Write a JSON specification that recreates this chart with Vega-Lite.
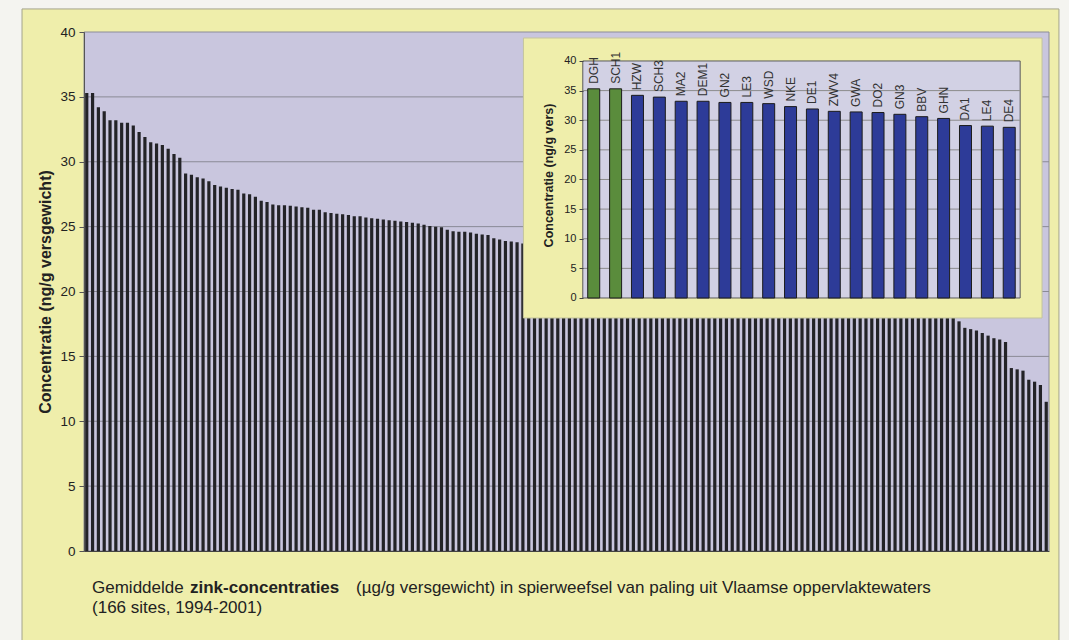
{
  "$schema": "https://vega.github.io/schema/vega-lite/v6.json",
  "width": 965,
  "height": 519,
  "autosize": {"type": "none"},
  "padding": {"left": 84, "top": 32, "right": 20, "bottom": 89},
  "background": "#f4f4f0",
  "config": {"view": {"stroke": null}, "font": "Liberation Sans"},
  "datasets": {
    "main": [
      {"rang":1,"zink":35.3},{"rang":2,"zink":35.3},{"rang":3,"zink":34.2},{"rang":4,"zink":33.9},{"rang":5,"zink":33.2},{"rang":6,"zink":33.2},{"rang":7,"zink":33.0},{"rang":8,"zink":33.0},{"rang":9,"zink":32.8},{"rang":10,"zink":32.3},
      {"rang":11,"zink":31.9},{"rang":12,"zink":31.5},{"rang":13,"zink":31.4},{"rang":14,"zink":31.3},{"rang":15,"zink":31.0},{"rang":16,"zink":30.6},{"rang":17,"zink":30.3},{"rang":18,"zink":29.1},{"rang":19,"zink":29.0},{"rang":20,"zink":28.8},
      {"rang":21,"zink":28.7},{"rang":22,"zink":28.5},{"rang":23,"zink":28.2},{"rang":24,"zink":28.1},{"rang":25,"zink":28.0},{"rang":26,"zink":27.9},{"rang":27,"zink":27.85},{"rang":28,"zink":27.55},{"rang":29,"zink":27.5},{"rang":30,"zink":27.3},
      {"rang":31,"zink":27.0},{"rang":32,"zink":26.9},{"rang":33,"zink":26.7},{"rang":34,"zink":26.65},{"rang":35,"zink":26.65},{"rang":36,"zink":26.6},{"rang":37,"zink":26.55},{"rang":38,"zink":26.5},{"rang":39,"zink":26.45},{"rang":40,"zink":26.3},
      {"rang":41,"zink":26.3},{"rang":42,"zink":26.1},{"rang":43,"zink":26.05},{"rang":44,"zink":26.0},{"rang":45,"zink":25.95},{"rang":46,"zink":25.9},{"rang":47,"zink":25.8},{"rang":48,"zink":25.8},{"rang":49,"zink":25.7},{"rang":50,"zink":25.65},
      {"rang":51,"zink":25.6},{"rang":52,"zink":25.55},{"rang":53,"zink":25.5},{"rang":54,"zink":25.45},{"rang":55,"zink":25.4},{"rang":56,"zink":25.35},{"rang":57,"zink":25.3},{"rang":58,"zink":25.25},{"rang":59,"zink":25.15},{"rang":60,"zink":25.05},
      {"rang":61,"zink":25.0},{"rang":62,"zink":24.95},{"rang":63,"zink":24.75},{"rang":64,"zink":24.65},{"rang":65,"zink":24.6},{"rang":66,"zink":24.6},{"rang":67,"zink":24.55},{"rang":68,"zink":24.45},{"rang":69,"zink":24.4},{"rang":70,"zink":24.35},
      {"rang":71,"zink":24.1},{"rang":72,"zink":24.0},{"rang":73,"zink":23.9},{"rang":74,"zink":23.85},{"rang":75,"zink":23.8},{"rang":76,"zink":23.7},{"rang":77,"zink":23.65},{"rang":78,"zink":23.5},{"rang":79,"zink":23.45},{"rang":80,"zink":23.4},
      {"rang":81,"zink":23.3},{"rang":82,"zink":23.25},{"rang":83,"zink":23.1},{"rang":84,"zink":23.05},{"rang":85,"zink":23.0},{"rang":86,"zink":22.9},{"rang":87,"zink":22.85},{"rang":88,"zink":22.8},{"rang":89,"zink":22.7},{"rang":90,"zink":22.6},
      {"rang":91,"zink":22.55},{"rang":92,"zink":22.5},{"rang":93,"zink":22.4},{"rang":94,"zink":22.35},{"rang":95,"zink":22.25},{"rang":96,"zink":22.2},{"rang":97,"zink":22.1},{"rang":98,"zink":22.0},{"rang":99,"zink":21.95},{"rang":100,"zink":21.9},
      {"rang":101,"zink":21.8},{"rang":102,"zink":21.7},{"rang":103,"zink":21.65},{"rang":104,"zink":21.6},{"rang":105,"zink":21.5},{"rang":106,"zink":21.45},{"rang":107,"zink":21.35},{"rang":108,"zink":21.3},{"rang":109,"zink":21.2},{"rang":110,"zink":21.1},
      {"rang":111,"zink":21.05},{"rang":112,"zink":21.0},{"rang":113,"zink":20.9},{"rang":114,"zink":20.85},{"rang":115,"zink":20.75},{"rang":116,"zink":20.7},{"rang":117,"zink":20.6},{"rang":118,"zink":20.5},{"rang":119,"zink":20.45},{"rang":120,"zink":20.4},
      {"rang":121,"zink":20.3},{"rang":122,"zink":20.25},{"rang":123,"zink":20.15},{"rang":124,"zink":20.1},{"rang":125,"zink":20.0},{"rang":126,"zink":19.9},{"rang":127,"zink":19.85},{"rang":128,"zink":19.8},{"rang":129,"zink":19.7},{"rang":130,"zink":19.65},
      {"rang":131,"zink":19.55},{"rang":132,"zink":19.5},{"rang":133,"zink":19.4},{"rang":134,"zink":19.3},{"rang":135,"zink":19.25},{"rang":136,"zink":19.2},{"rang":137,"zink":19.1},{"rang":138,"zink":19.0},{"rang":139,"zink":18.95},{"rang":140,"zink":18.9},
      {"rang":141,"zink":18.8},{"rang":142,"zink":18.75},{"rang":143,"zink":18.6},{"rang":144,"zink":18.5},{"rang":145,"zink":18.45},{"rang":146,"zink":18.35},{"rang":147,"zink":18.25},{"rang":148,"zink":18.2},{"rang":149,"zink":18.1},{"rang":150,"zink":18.0},
      {"rang":151,"zink":17.7},{"rang":152,"zink":17.2},{"rang":153,"zink":17.1},{"rang":154,"zink":17.0},{"rang":155,"zink":16.8},{"rang":156,"zink":16.6},{"rang":157,"zink":16.4},{"rang":158,"zink":16.3},{"rang":159,"zink":16.1},{"rang":160,"zink":14.1},
      {"rang":161,"zink":14.0},{"rang":162,"zink":13.9},{"rang":163,"zink":13.2},{"rang":164,"zink":13.05},{"rang":165,"zink":12.8},{"rang":166,"zink":11.5}
    ],
    "top20": [
      {"rang":1,"site":"DGH","zink":35.3,"groep":"a"},
      {"rang":2,"site":"SCH1","zink":35.3,"groep":"a"},
      {"rang":3,"site":"HZW","zink":34.2,"groep":"b"},
      {"rang":4,"site":"SCH3","zink":33.9,"groep":"b"},
      {"rang":5,"site":"MA2","zink":33.2,"groep":"b"},
      {"rang":6,"site":"DEM1","zink":33.2,"groep":"b"},
      {"rang":7,"site":"GN2","zink":33.0,"groep":"b"},
      {"rang":8,"site":"LE3","zink":33.0,"groep":"b"},
      {"rang":9,"site":"WSD","zink":32.8,"groep":"b"},
      {"rang":10,"site":"NKE","zink":32.3,"groep":"b"},
      {"rang":11,"site":"DE1","zink":31.9,"groep":"b"},
      {"rang":12,"site":"ZWV4","zink":31.5,"groep":"b"},
      {"rang":13,"site":"GWA","zink":31.4,"groep":"b"},
      {"rang":14,"site":"DO2","zink":31.3,"groep":"b"},
      {"rang":15,"site":"GN3","zink":31.0,"groep":"b"},
      {"rang":16,"site":"BBV","zink":30.6,"groep":"b"},
      {"rang":17,"site":"GHN","zink":30.3,"groep":"b"},
      {"rang":18,"site":"DA1","zink":29.1,"groep":"b"},
      {"rang":19,"site":"LE4","zink":29.0,"groep":"b"},
      {"rang":20,"site":"DE4","zink":28.8,"groep":"b"}
    ],
    "grid": [{"g":5},{"g":10},{"g":15},{"g":20},{"g":25},{"g":30},{"g":35}]
  },
  "layer": [
    {
      "data": {"values": [{}]},
      "layer": [
        {
          "mark": {"type": "rect", "fill": "#efeeab", "stroke": "#a5a58c", "strokeWidth": 1},
          "encoding": {
            "x": {"datum": -24.885, "type": "quantitative", "scale": {"domain": [-22.08, 21.59], "nice": false, "zero": false}, "axis": null},
            "x2": {"datum": 22.04},
            "y": {"datum": 48.78, "type": "quantitative", "scale": {"domain": [-42.70, 44.89], "nice": false, "zero": false}, "axis": null},
            "y2": {"datum": -58.57}
          }
        },
        {
          "mark": {"type": "text", "text": "Gemiddelde", "align": "left", "baseline": "middle", "fontSize": 17, "color": "#222222"},
          "encoding": {
            "x": {"datum": -21.717, "type": "quantitative", "scale": {"domain": [-22.08, 21.59], "nice": false, "zero": false}, "axis": null},
            "y": {"datum": -48.95, "type": "quantitative", "scale": {"domain": [-42.70, 44.89], "nice": false, "zero": false}, "axis": null}
          }
        },
        {
          "mark": {"type": "text", "text": "zink-concentraties", "align": "left", "baseline": "middle", "fontSize": 17, "fontWeight": "bold", "color": "#222222"},
          "encoding": {
            "x": {"datum": -17.283, "type": "quantitative", "scale": {"domain": [-22.08, 21.59], "nice": false, "zero": false}, "axis": null},
            "y": {"datum": -48.95, "type": "quantitative", "scale": {"domain": [-42.70, 44.89], "nice": false, "zero": false}, "axis": null}
          }
        },
        {
          "mark": {"type": "text", "text": "(µg/g versgewicht) in spierweefsel van paling uit Vlaamse oppervlaktewaters", "align": "left", "baseline": "middle", "fontSize": 17, "color": "#222222"},
          "encoding": {
            "x": {"datum": -9.772, "type": "quantitative", "scale": {"domain": [-22.08, 21.59], "nice": false, "zero": false}, "axis": null},
            "y": {"datum": -48.95, "type": "quantitative", "scale": {"domain": [-42.70, 44.89], "nice": false, "zero": false}, "axis": null}
          }
        },
        {
          "mark": {"type": "text", "text": "(166 sites, 1994-2001)", "align": "left", "baseline": "middle", "fontSize": 17, "color": "#222222"},
          "encoding": {
            "x": {"datum": -21.717, "type": "quantitative", "scale": {"domain": [-22.08, 21.59], "nice": false, "zero": false}, "axis": null},
            "y": {"datum": -52.32, "type": "quantitative", "scale": {"domain": [-42.70, 44.89], "nice": false, "zero": false}, "axis": null}
          }
        }
      ]
    },
    {
      "layer": [
        {
          "data": {"values": [{}]},
          "mark": {"type": "rect", "fill": "#c9c6de", "stroke": "#8c8c98", "strokeWidth": 1},
          "encoding": {
            "y": {"datum": 40, "type": "quantitative", "scale": {"domain": [0, 40], "nice": false, "zero": false},
                  "axis": {"title": "Concentratie (ng/g versgewicht)", "values": [0,5,10,15,20,25,30,35,40], "grid": false, "domain": true, "domainColor": "#555555",
                           "tickSize": 5, "tickColor": "#555555", "labelFontSize": 13.5, "labelColor": "#222222", "labelPadding": 4,
                           "titleFontSize": 16, "titleFontWeight": "bold", "titleColor": "#222222", "titlePadding": 6, "zindex": 1}},
            "y2": {"datum": 0}
          }
        },
        {
          "data": {"name": "grid"},
          "mark": {"type": "rule", "color": "#8a8a96", "strokeWidth": 1},
          "encoding": {
            "y": {"field": "g", "type": "quantitative", "scale": {"domain": [0, 40], "nice": false, "zero": false},
                  "axis": {"title": "Concentratie (ng/g versgewicht)", "values": [0,5,10,15,20,25,30,35,40], "grid": false, "domain": true, "domainColor": "#555555",
                           "tickSize": 5, "tickColor": "#555555", "labelFontSize": 13.5, "labelColor": "#222222", "labelPadding": 4,
                           "titleFontSize": 16, "titleFontWeight": "bold", "titleColor": "#222222", "titlePadding": 6, "zindex": 1}}
          }
        },
        {
          "data": {"name": "main"},
          "mark": {"type": "bar", "color": "#232327"},
          "encoding": {
            "x": {"field": "rang", "type": "ordinal", "scale": {"paddingInner": 0.45, "paddingOuter": 0.2},
                  "axis": {"title": null, "labels": false, "ticks": false, "domain": true, "domainColor": "#444444", "grid": false, "zindex": 1}},
            "y": {"field": "zink", "type": "quantitative", "scale": {"domain": [0, 40], "nice": false, "zero": false},
                  "axis": {"title": "Concentratie (ng/g versgewicht)", "values": [0,5,10,15,20,25,30,35,40], "grid": false, "domain": true, "domainColor": "#555555",
                           "tickSize": 5, "tickColor": "#555555", "labelFontSize": 13.5, "labelColor": "#222222", "labelPadding": 4,
                           "titleFontSize": 16, "titleFontWeight": "bold", "titleColor": "#222222", "titlePadding": 6, "zindex": 1}}
          }
        }
      ]
    },
    {
      "layer": [
        {
          "data": {"values": [{}]},
          "mark": {"type": "rect", "fill": "#efeeab", "stroke": "#c4c49c", "strokeWidth": 1},
          "encoding": {
            "x": {"datum": -2.215, "type": "quantitative", "scale": {"domain": [-22.08, 21.59], "nice": false, "zero": false}, "axis": null},
            "x2": {"datum": 21.5},
            "y": {"datum": 43.88, "type": "quantitative", "scale": {"domain": [-42.70, 44.89], "nice": false, "zero": false},
                  "axis": {"orient": "left", "offset": -499, "title": "Concentratie (ng/g vers)", "values": [0,5,10,15,20,25,30,35,40],
                           "grid": false, "domain": false, "tickSize": 4, "tickColor": "#444444", "labelFontSize": 11, "labelColor": "#222222",
                           "labelPadding": 3, "labelFlush": false, "labelOverlap": false,
                           "titleFontSize": 12.5, "titleFontWeight": "bold", "titleColor": "#222222", "titleY": 143, "titlePadding": 8, "zindex": 1}},
            "y2": {"datum": -3.376}
          }
        },
        {
          "data": {"values": [{}]},
          "mark": {"type": "rect", "fill": "#d2d1e4", "stroke": "#5a5a5a", "strokeWidth": 1},
          "encoding": {
            "x": {"datum": 0.5, "type": "quantitative", "scale": {"domain": [-22.08, 21.59], "nice": false, "zero": false}, "axis": null},
            "x2": {"datum": 20.5},
            "y": {"datum": 40, "type": "quantitative", "scale": {"domain": [-42.70, 44.89], "nice": false, "zero": false},
                  "axis": {"orient": "left", "offset": -499, "title": "Concentratie (ng/g vers)", "values": [0,5,10,15,20,25,30,35,40],
                           "grid": false, "domain": false, "tickSize": 4, "tickColor": "#444444", "labelFontSize": 11, "labelColor": "#222222",
                           "labelPadding": 3, "labelFlush": false, "labelOverlap": false,
                           "titleFontSize": 12.5, "titleFontWeight": "bold", "titleColor": "#222222", "titleY": 143, "titlePadding": 8, "zindex": 1}},
            "y2": {"datum": 0}
          }
        },
        {
          "data": {"name": "grid"},
          "mark": {"type": "rule", "color": "#8c8c8c", "strokeWidth": 1},
          "encoding": {
            "x": {"datum": 0.5, "type": "quantitative", "scale": {"domain": [-22.08, 21.59], "nice": false, "zero": false}, "axis": null},
            "x2": {"datum": 20.5},
            "y": {"field": "g", "type": "quantitative", "scale": {"domain": [-42.70, 44.89], "nice": false, "zero": false},
                  "axis": {"orient": "left", "offset": -499, "title": "Concentratie (ng/g vers)", "values": [0,5,10,15,20,25,30,35,40],
                           "grid": false, "domain": false, "tickSize": 4, "tickColor": "#444444", "labelFontSize": 11, "labelColor": "#222222",
                           "labelPadding": 3, "labelFlush": false, "labelOverlap": false,
                           "titleFontSize": 12.5, "titleFontWeight": "bold", "titleColor": "#222222", "titleY": 143, "titlePadding": 8, "zindex": 1}}
          }
        },
        {
          "data": {"name": "top20"},
          "mark": {"type": "bar", "width": 12, "stroke": "#1c1c1c", "strokeWidth": 1},
          "encoding": {
            "x": {"field": "rang", "type": "quantitative", "scale": {"domain": [-22.08, 21.59], "nice": false, "zero": false}, "axis": null},
            "y": {"field": "zink", "type": "quantitative", "scale": {"domain": [-42.70, 44.89], "nice": false, "zero": false},
                  "axis": {"orient": "left", "offset": -499, "title": "Concentratie (ng/g vers)", "values": [0,5,10,15,20,25,30,35,40],
                           "grid": false, "domain": false, "tickSize": 4, "tickColor": "#444444", "labelFontSize": 11, "labelColor": "#222222",
                           "labelPadding": 3, "labelFlush": false, "labelOverlap": false,
                           "titleFontSize": 12.5, "titleFontWeight": "bold", "titleColor": "#222222", "titleY": 143, "titlePadding": 8, "zindex": 1}},
            "color": {"field": "groep", "type": "nominal", "scale": {"domain": ["a", "b"], "range": ["#5a8c3c", "#2d3b98"]}, "legend": null}
          }
        },
        {
          "data": {"name": "top20"},
          "mark": {"type": "text", "angle": 270, "align": "left", "baseline": "middle", "dx": 5, "fontSize": 12, "color": "#333333"},
          "encoding": {
            "x": {"field": "rang", "type": "quantitative", "scale": {"domain": [-22.08, 21.59], "nice": false, "zero": false}, "axis": null},
            "y": {"field": "zink", "type": "quantitative", "scale": {"domain": [-42.70, 44.89], "nice": false, "zero": false},
                  "axis": {"orient": "left", "offset": -499, "title": "Concentratie (ng/g vers)", "values": [0,5,10,15,20,25,30,35,40],
                           "grid": false, "domain": false, "tickSize": 4, "tickColor": "#444444", "labelFontSize": 11, "labelColor": "#222222",
                           "labelPadding": 3, "labelFlush": false, "labelOverlap": false,
                           "titleFontSize": 12.5, "titleFontWeight": "bold", "titleColor": "#222222", "titleY": 143, "titlePadding": 8, "zindex": 1}},
            "text": {"field": "site", "type": "nominal"}
          }
        }
      ]
    }
  ],
  "resolve": {"scale": {"x": "independent", "y": "independent", "color": "independent"}}
}
